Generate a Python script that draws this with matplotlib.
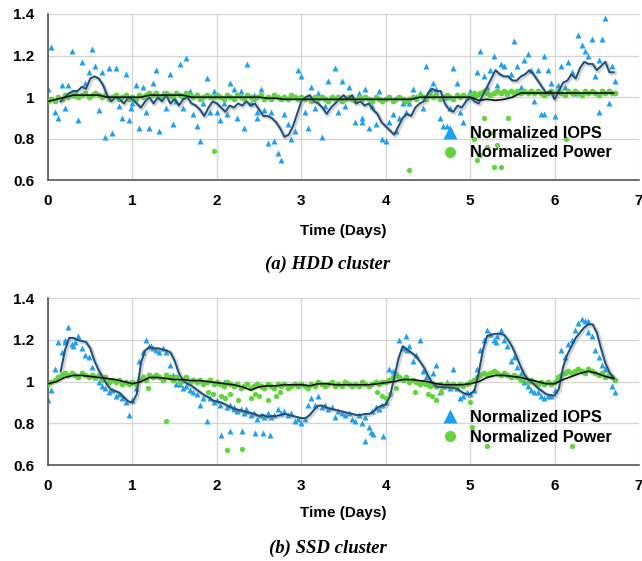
import numpy as np
import matplotlib
matplotlib.use("Agg")
import matplotlib.pyplot as plt
import matplotlib.patheffects as pe
from matplotlib.lines import Line2D

plt.rcParams['font.family'] = ['Liberation Sans', 'DejaVu Sans']
plt.rcParams['font.weight'] = 'bold'

# sampling steps (days)
scatter_step = 0.04
avg_step = 0.05
avg_start = 0.15
power_avg_step = 0.1

# ---------------- HDD cluster ----------------
hdd_iops = [
    1.04, 1.24, 0.93, 0.90, 1.06, 0.95, 1.06, 1.22, 1.01, 0.89, 1.17, 1.07, 1.12, 1.23, 1.15, 0.94, 1.12, 0.81, 1.14, 0.83, 1.14, 0.96, 0.90, 1.11, 0.89,
    0.97, 1.06, 0.85, 1.05, 0.93, 0.85, 1.07, 1.13, 0.84, 1.02, 0.95, 1.11, 0.87, 0.98, 1.16, 0.95, 1.19, 1.03, 0.92, 0.86, 0.79, 0.97, 1.09, 0.93, 1.03,
    0.93, 0.89, 0.97, 0.92, 1.07, 1.04, 0.90, 1.03, 0.85, 1.16, 0.97, 1.01, 0.90, 1.04, 0.94, 0.78, 0.93, 0.79, 0.73, 0.70, 0.92, 0.87, 0.80, 0.84, 1.13,
    1.10, 0.93, 0.85, 1.05, 0.95, 1.02, 0.81, 0.96, 1.08, 1.00, 1.14, 0.93, 1.08, 0.96, 1.05, 1.00, 0.88, 1.02, 0.90, 1.04, 0.85, 0.96, 0.87, 1.03, 0.80,
    0.79, 0.88, 0.92, 0.84, 0.90, 0.97, 0.93, 0.97, 1.04, 1.00, 1.02, 0.95, 1.15, 1.04, 1.07, 1.04, 0.90, 0.86, 1.00, 0.95, 1.14, 1.07, 0.93, 0.88, 1.00,
    1.03, 1.01, 1.12, 1.22, 1.10, 1.05, 1.13, 1.20, 1.06, 1.16, 1.15, 1.02, 1.11, 1.27, 1.15, 1.05, 1.18, 1.21, 1.13, 0.98, 1.13, 0.92, 1.20, 1.13, 1.07,
    0.91, 1.06, 1.15, 1.05, 1.17, 1.12, 1.02, 1.30, 1.25, 1.22, 1.20, 1.28, 1.10, 1.18, 1.28, 1.38, 0.97, 1.15, 1.08,
]
hdd_iops_extra_t = [0.98, 2.47, 3.72, 4.72, 5.87, 6.52]
hdd_iops_extra_v = [0.95, 0.93, 0.88, 0.86, 0.92, 0.93]

hdd_iops_avg = [
    0.98, 1.00, 1.02, 1.03, 1.03, 1.05, 1.04, 1.09, 1.10, 1.09, 1.06, 1.01, 0.98, 1.00, 0.99, 0.97, 1.00,
    0.99, 0.97, 0.95, 0.98, 1.00, 0.97, 1.00, 0.98, 1.01, 0.97, 0.99, 0.96, 0.99, 1.00, 0.97, 0.96, 0.94, 0.91, 0.95, 0.98,
    0.97, 0.95, 0.93, 0.96, 0.95, 0.97, 0.96, 0.98, 0.96, 0.97, 0.94, 0.91, 0.91, 0.90, 0.88, 0.85, 0.81, 0.82, 0.86, 0.92,
    0.98, 1.00, 1.01, 0.98, 0.97, 0.95, 0.92, 0.95, 0.97, 0.99, 1.01, 0.99, 1.01, 0.97, 0.98, 0.96, 0.97, 0.94, 0.92, 0.88,
    0.86, 0.84, 0.82, 0.86, 0.90, 0.92, 0.91, 0.95, 0.97, 0.98, 1.02, 1.04, 1.03, 1.03, 0.97, 0.94, 0.93, 0.96, 0.95, 0.98,
    1.00, 0.98, 0.97, 1.01, 1.05, 1.09, 1.13, 1.11, 1.10, 1.10, 1.08, 1.08, 1.10, 1.11, 1.13, 1.11, 1.08, 1.05, 1.02, 1.03,
    0.99, 1.03, 1.07, 1.08, 1.11, 1.09, 1.14, 1.17, 1.16, 1.16, 1.13, 1.15, 1.17, 1.12, 1.12,
]

hdd_power = [
    0.98, 0.99, 0.98, 1.00, 0.99, 1.01, 1.00, 1.01, 1.02, 1.00, 1.01, 1.02, 1.00, 1.01, 1.02, 1.01, 1.00, 1.01, 0.99, 1.00, 1.01, 0.99, 1.00, 1.01, 0.99,
    1.00, 0.99, 1.01, 1.00, 1.01, 1.02, 1.01, 1.02, 1.00, 1.01, 1.02, 1.01, 1.00, 1.02, 1.01, 1.00, 1.02, 1.01, 1.00, 1.01, 0.99, 1.00, 1.01, 1.00, 1.00,
    1.01, 1.00, 0.99, 1.01, 1.00, 0.99, 1.01, 1.00, 0.99, 1.01, 1.00, 0.99, 1.00, 1.01, 0.99, 1.00, 0.99, 1.01, 1.00, 0.99, 1.00, 0.99, 1.01, 1.00, 0.99,
    1.00, 0.99, 1.00, 0.98, 1.00, 0.99, 1.00, 0.99, 0.98, 1.00, 0.99, 1.00, 0.98, 0.99, 1.00, 0.99, 0.98, 1.00, 0.99, 1.00, 0.99, 0.98, 1.00, 0.99, 0.98,
    0.99, 1.00, 0.98, 0.99, 1.00, 0.99, 0.98, 0.99, 1.00, 0.99, 1.01, 1.00, 0.99, 1.01, 1.00, 1.01, 0.99, 1.00, 1.01, 1.00, 0.99, 1.01, 1.00, 1.01, 1.00,
    1.01, 1.02, 1.01, 1.02, 1.03, 1.02, 1.01, 1.02, 1.03, 1.02, 1.03, 1.02, 1.03, 1.02, 1.03, 1.02, 1.03, 1.02, 1.03, 1.02, 1.03, 1.02, 1.01, 1.02, 1.03,
    1.02, 1.03, 1.02, 1.01, 1.03, 1.02, 1.03, 1.02, 1.01, 1.03, 1.02, 1.03, 1.02, 1.01, 1.03, 1.02, 1.03, 1.02, 1.02,
]
hdd_power_out_t = [1.96, 4.27, 5.04, 5.08, 5.12, 5.16, 5.20, 5.24, 5.28, 5.32, 5.36, 5.45, 6.13]
hdd_power_out_v = [0.74, 0.65, 0.80, 0.70, 0.72, 0.90, 0.76, 0.83, 0.665, 0.77, 0.665, 0.90, 0.80]

hdd_power_avg = [
    0.98, 0.99, 1.00, 1.01, 1.01, 1.01, 1.01, 1.00, 1.00, 1.00,
    1.00, 1.00, 1.01, 1.01, 1.01, 1.01, 1.01, 1.00, 1.00, 1.00,
    1.00, 1.00, 1.00, 1.00, 1.00, 1.00, 0.995, 0.995, 0.99, 0.99,
    0.99, 0.99, 0.99, 0.99, 0.99, 0.99, 0.99, 0.99, 0.99, 0.99,
    0.99, 0.99, 0.99, 0.99, 1.00, 1.00, 1.00, 1.00, 1.00, 1.00,
    1.00, 0.985, 0.99, 0.985, 0.99, 1.00, 1.02, 1.02, 1.02, 1.02,
    1.02, 1.02, 1.02, 1.02, 1.02, 1.02, 1.02, 1.02,
]

# ---------------- SSD cluster ----------------
ssd_iops = [
    0.91, 0.96, 1.06, 1.19, 1.14, 1.20, 1.26, 1.18, 1.19, 1.22, 1.16, 1.13, 1.12, 1.07, 1.02, 1.00, 0.98, 0.97, 0.95, 0.96, 0.93, 0.94, 0.92, 0.90, 0.84,
    0.91, 0.97, 1.10, 1.14, 1.20, 1.17, 1.16, 1.15, 1.14, 1.16, 1.14, 1.08, 1.03, 0.99, 0.99, 0.97, 0.98, 0.96, 0.95, 0.94, 0.89, 0.92, 0.81, 0.92, 0.90,
    0.91, 0.89, 1.00, 0.88, 0.89, 0.87, 0.86, 0.87, 0.85, 0.86, 0.84, 0.85, 0.82, 0.84, 0.83, 0.85, 0.83, 0.84, 0.87, 0.85, 0.86, 0.84, 0.85, 0.81, 0.82,
    0.80, 0.82, 0.89, 0.92, 0.89, 0.93, 0.88, 0.89, 0.87, 0.88, 0.83, 0.86, 0.85, 0.84, 0.85, 0.82, 0.81, 0.84, 0.80, 0.83, 0.78, 0.86, 0.88, 0.87, 0.89,
    0.90, 1.06, 1.05, 1.04, 1.20, 1.16, 1.22, 1.17, 1.10, 1.13, 1.20, 1.05, 1.02, 1.00, 1.04, 1.08, 0.95, 0.98, 1.00, 0.97, 1.06, 0.97, 0.92, 0.93, 0.95,
    0.94, 0.96, 1.06, 1.15, 1.20, 1.25, 1.23, 1.20, 1.22, 1.25, 1.20, 1.17, 1.10, 1.12, 1.07, 1.04, 1.00, 0.98, 0.96, 0.95, 0.95, 0.93, 0.92, 0.93, 0.93,
    0.96, 1.02, 1.15, 1.12, 1.18, 1.20, 1.25, 1.28, 1.30, 1.29, 1.29, 1.22, 1.15, 1.12, 1.08, 1.06, 1.03, 0.98, 0.95,
]
ssd_iops_extra_t = [0.20, 0.30, 1.22, 2.05, 2.15, 2.20, 2.30, 2.35, 2.45, 2.55, 2.63, 3.75, 3.82, 3.85, 3.97, 4.25, 5.30, 6.40]
ssd_iops_extra_v = [1.19, 1.17, 1.17, 0.745, 0.765, 0.88, 0.765, 0.87, 0.755, 0.755, 0.745, 0.715, 0.76, 0.75, 0.74, 1.15, 1.19, 1.24]

ssd_iops_avg = [
    1.05, 1.15, 1.21, 1.21, 1.20, 1.195, 1.19, 1.16, 1.10, 1.055, 1.02, 0.985, 0.96, 0.955, 0.945, 0.925, 0.905,
    0.90, 0.94, 1.09, 1.15, 1.165, 1.16, 1.16, 1.155, 1.15, 1.14, 1.10, 1.04, 1.005, 0.99, 0.98, 0.965, 0.95, 0.935, 0.925, 0.91,
    0.905, 0.90, 0.89, 0.88, 0.87, 0.865, 0.86, 0.855, 0.85, 0.845, 0.835, 0.84, 0.83, 0.835, 0.835, 0.84, 0.845, 0.84, 0.835, 0.83,
    0.825, 0.825, 0.84, 0.865, 0.885, 0.885, 0.875, 0.87, 0.865, 0.86, 0.855, 0.85, 0.845, 0.84, 0.84, 0.845, 0.845, 0.855, 0.875, 0.885,
    0.89, 0.93, 1.02, 1.11, 1.17, 1.155, 1.14, 1.125, 1.10, 1.07, 1.03, 0.995, 0.976, 0.975, 0.973, 0.972, 0.97, 0.965, 0.95, 0.94,
    0.94, 0.957, 1.04, 1.15, 1.22, 1.225, 1.23, 1.23, 1.225, 1.20, 1.165, 1.12, 1.07, 1.03, 1.005, 0.99, 0.97, 0.955, 0.94, 0.935,
    0.933, 0.965, 1.07, 1.13, 1.17, 1.21, 1.235, 1.26, 1.275, 1.275, 1.235, 1.16, 1.09, 1.045, 1.015,
]

ssd_power = [
    0.99, 1.00, 1.01, 1.02, 1.03, 1.04, 1.03, 1.04, 1.03, 1.02, 1.04, 1.03, 1.02, 1.03, 1.02, 1.03, 1.01, 1.02, 1.00, 1.01, 1.00, 1.01, 0.99, 1.00, 0.99,
    1.00, 0.99, 1.01, 1.02, 1.01, 1.03, 1.02, 1.03, 1.02, 1.01, 1.03, 1.02, 1.01, 1.02, 1.00, 1.01, 1.02, 1.00, 1.01, 1.00, 1.01, 0.99, 1.00, 1.01, 0.99,
    1.00, 0.99, 0.98, 1.00, 0.99, 0.98, 0.99, 0.97, 0.98, 0.99, 0.97, 0.98, 0.99, 0.98, 0.97, 0.99, 0.98, 0.97, 0.99, 0.98, 0.99, 0.97, 0.98, 0.99, 0.98,
    0.99, 0.98, 0.97, 0.99, 0.98, 1.00, 0.99, 0.98, 0.99, 1.00, 0.98, 0.99, 0.98, 1.00, 0.99, 0.98, 0.99, 0.98, 1.00, 0.99, 0.98, 0.99, 1.00, 0.99, 1.00,
    1.00, 1.01, 1.02, 1.03, 1.02, 1.01, 1.02, 1.00, 1.01, 1.00, 0.99, 1.00, 0.99, 0.98, 0.99, 0.98, 0.99, 0.98, 0.99, 0.98, 0.99, 0.98, 0.99, 0.98, 0.99,
    1.00, 1.01, 1.02, 1.03, 1.04, 1.03, 1.04, 1.05, 1.04, 1.03, 1.04, 1.03, 1.02, 1.03, 1.02, 1.01, 1.02, 1.00, 1.01, 1.00, 0.99, 1.00, 0.99, 1.00, 0.99,
    1.00, 1.02, 1.03, 1.04, 1.05, 1.04, 1.05, 1.06, 1.05, 1.04, 1.06, 1.05, 1.04, 1.03, 1.04, 1.02, 1.03, 1.02, 1.01,
]
ssd_power_out_t = [1.18, 1.40, 1.90, 1.95, 2.05, 2.10, 2.15, 2.25, 2.40, 2.45, 2.50, 2.60, 2.70, 2.75, 2.12, 2.30,
                   3.90, 3.95, 4.00, 4.05, 4.12, 4.35, 4.50, 4.55, 4.60, 4.65, 5.00, 5.02, 5.20, 6.20]
ssd_power_out_v = [0.97, 0.81, 0.95, 0.94, 0.93, 0.92, 0.94, 0.91, 0.92, 0.94, 0.93, 0.91, 0.93, 0.95, 0.67, 0.675,
                   0.95, 0.93, 0.92, 0.94, 0.97, 0.95, 0.94, 0.93, 0.91, 0.95, 0.90, 0.78, 0.69, 0.69]

ssd_power_avg = [
    0.99, 1.00, 1.02, 1.03, 1.03, 1.025, 1.02, 1.015, 1.01, 1.00,
    0.99, 1.00, 1.02, 1.02, 1.015, 1.01, 1.01, 1.005, 1.005, 1.00,
    0.995, 0.99, 0.985, 0.975, 0.96, 0.975, 0.98, 0.98, 0.985, 0.985,
    0.985, 0.98, 0.99, 0.99, 0.985, 0.985, 0.985, 0.985, 0.985, 0.99,
    0.995, 1.00, 1.01, 1.01, 1.005, 1.00, 0.99, 0.985, 0.985, 0.985,
    0.99, 1.00, 1.02, 1.03, 1.03, 1.025, 1.02, 1.01, 1.00, 0.99,
    0.99, 1.01, 1.025, 1.04, 1.05, 1.04, 1.025, 1.015,
]

yticks = [0.6, 0.8, 1.0, 1.2, 1.4]
xticks = [0, 1, 2, 3, 4, 5, 6, 7]

iops_color = '#1ea0f0'
power_color = '#62d43c'
iops_line_color = '#1d4f7a'
power_line_color = '#111111'


def draw_panel(ax, iops, iops_xt, iops_xv, iops_avg, power, pow_ot, pow_ov, power_avg):
    t_sc = np.arange(len(iops)) * scatter_step
    t_pw = np.arange(len(power)) * scatter_step
    t_avg = avg_start + np.arange(len(iops_avg)) * avg_step
    t_pavg = np.arange(len(power_avg)) * power_avg_step

    ax.plot(t_sc, iops, ls='none', marker='^', ms=4.8, color=iops_color, mec='none', zorder=2)
    ax.plot(iops_xt, iops_xv, ls='none', marker='^', ms=4.8, color=iops_color, mec='none', zorder=2)
    ax.plot(t_pw, power, ls='none', marker='o', ms=4.2, color=power_color, mec='none', zorder=3)
    ax.plot(pow_ot, pow_ov, ls='none', marker='o', ms=3.8, color=power_color, mec='none', zorder=3)

    blue_fx = [pe.SimpleLineShadow(offset=(0.8, -0.8), shadow_color='#888888', alpha=0.35, linewidth=3), pe.Normal()]
    black_fx = [pe.SimpleLineShadow(offset=(0.6, -0.6), shadow_color='#999999', alpha=0.25, linewidth=2.2), pe.Normal()]
    ax.plot(t_avg, iops_avg, color=iops_line_color, lw=1.4, zorder=4, path_effects=blue_fx)
    ax.plot(t_pavg, power_avg, color=power_line_color, lw=1.2, zorder=5, path_effects=black_fx)

    ax.set_xlim(0, 7)
    ax.set_ylim(0.6, 1.4)
    ax.set_xticks(xticks)
    ax.set_yticks(yticks)
    ax.set_yticklabels([f'{v:g}' for v in yticks])
    ax.grid(True, color='#d4d4d4', lw=0.9)
    ax.set_axisbelow(True)
    for side in ['top', 'right']:
        ax.spines[side].set_visible(False)
    for side in ['left', 'bottom']:
        ax.spines[side].set_color('#555555')
        ax.spines[side].set_linewidth(1.2)
    ax.tick_params(length=0, pad=10, labelsize=11)
    for lab in ax.get_xticklabels() + ax.get_yticklabels():
        lab.set_fontweight('bold')

    handles = [
        Line2D([], [], ls='none', marker='^', ms=9.5, color=iops_color, mec='none'),
        Line2D([], [], ls='none', marker='o', ms=8, color=power_color, mec='none'),
    ]
    ax.legend(handles, ['Normalized IOPS', 'Normalized Power'], loc='upper left',
              bbox_to_anchor=(0.662, 0.33), frameon=False, borderpad=0, borderaxespad=0,
              handlelength=1.3, handletextpad=0.55, labelspacing=0.3,
              prop={'size': 11.8, 'weight': 'bold'})


fig = plt.figure(figsize=(6.42, 5.61), dpi=100)
ax1 = fig.add_axes([0.0748, 0.6783, 0.9206, 0.2968])
ax2 = fig.add_axes([0.0748, 0.1711, 0.9206, 0.2972])

draw_panel(ax1, hdd_iops, hdd_iops_extra_t, hdd_iops_extra_v, hdd_iops_avg,
           hdd_power, hdd_power_out_t, hdd_power_out_v, hdd_power_avg)
draw_panel(ax2, ssd_iops, ssd_iops_extra_t, ssd_iops_extra_v, ssd_iops_avg,
           ssd_power, ssd_power_out_t, ssd_power_out_v, ssd_power_avg)

for y in [0.5888, 0.0856]:
    fig.text(0.535, y, 'Time (Days)', ha='center', va='center', fontsize=11, fontweight='bold')

cap_font = {'family': ['Liberation Serif', 'DejaVu Serif'], 'style': 'italic', 'weight': 'bold', 'size': 13.5}
fig.text(0.51, 0.5294, '(a) HDD cluster', ha='center', va='center', fontdict=cap_font)
fig.text(0.51, 0.0232, '(b) SSD cluster', ha='center', va='center', fontdict=cap_font)

fig.savefig('out.png', dpi=100)
